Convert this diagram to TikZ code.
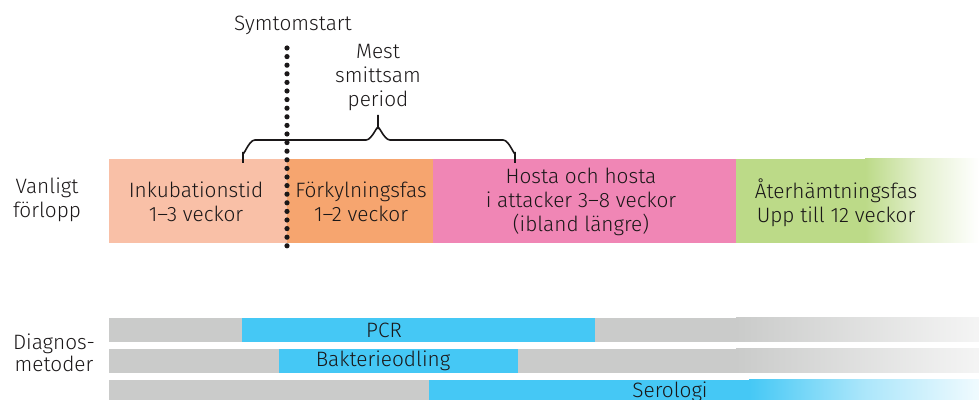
\documentclass[tikz,border=0pt]{standalone}
\usepackage{fontspec}
\setmainfont{Fira Sans}[UprightFont={* Light}]
\definecolor{inkub}{HTML}{F9C0A7}
\definecolor{forkyl}{HTML}{F6A56F}
\definecolor{hosta}{HTML}{F086B5}
\definecolor{ater}{HTML}{BCDA88}
\definecolor{metgrey}{HTML}{CACBCA}
\definecolor{metblue}{HTML}{45C8F5}
\definecolor{txt}{HTML}{1A1718}
\tikzset{
  lbl/.style={text=txt, font=\fontsize{10.4}{12}\selectfont, align=center, inner sep=0pt},
}

\begin{document}
\begin{tikzpicture}[x=0.5pt,y=-0.5pt]
\useasboundingbox (0,0) rectangle (979,400);
% fases
\fill[inkub] (109,159) rectangle (287,243);
\fill[forkyl] (287,159) rectangle (433,243);
\fill[hosta] (433,159) rectangle (736,243);
\fill[ater] (736,159) rectangle (866,243);
\shade[left color=ater, right color=white, middle color=ater!40] (865,159) rectangle (979,243);
% diagnosmetoder
\fill[metgrey] (109,318) rectangle (242,342);
\fill[metblue] (242,318) rectangle (595,342);
\fill[metgrey] (595,318) rectangle (737,342);
\shade[left color=metgrey, right color=metgrey!20] (736,318) rectangle (979,342);
\fill[metgrey] (109,349) rectangle (279,373);
\fill[metblue] (279,349) rectangle (518,373);
\fill[metgrey] (518,349) rectangle (737,373);
\shade[left color=metgrey, right color=metgrey!20] (736,349) rectangle (979,373);
\fill[metgrey] (109,380) rectangle (429,400);
\fill[metblue] (429,380) rectangle (750,400);
\shade[left color=metblue, right color=metblue!8, middle color=metblue!45] (749,380) rectangle (979,400);
% symtomstart
\node[lbl] (start) at (293,25) {Symtomstart};
\draw[txt, line width=2.6pt, dash pattern=on 0pt off 4.3pt, line cap=round] (287,48) -- (287,252);
% klammer
\draw[txt, line width=0.8pt] (243,163) -- (243,152) to[out=-90,in=180] (255,140) -- (366,140)
  to[out=0,in=90] (378,129) -- (378,115);
\draw[txt, line width=0.8pt] (378,129) to[out=90,in=180] (390,140) -- (503,140)
  to[out=0,in=-90] (515,152) -- (515,163);
\node[lbl] (mest) at (378,78) {Mest\\smittsam\\period};
% texter
\node[lbl] (forlopp) at (47,200) {Vanligt\\förlopp};
\node[lbl] (inkubtxt) at (196,202) {Inkubationstid\\1–3 veckor};
\node[lbl] (forkyltxt) at (361,202) {Förkylningsfas\\1–2 veckor};
\node[lbl] (hostatxt) at (581,202) {Hosta och hosta\\i attacker 3–8 veckor\\(ibland längre)};
\node[lbl] (atertxt) at (836,203) {Återhämtningsfas\\Upp till 12 veckor};
\node[lbl, font=\fontsize{10.4}{11}\selectfont] (diagnos) at (54,353) {Diagnos-\\metoder};
\node[lbl] (pcr) at (384,330) {PCR};
\node[lbl] (bakt) at (383,361) {Bakterieodling};
\node[lbl] (sero) at (670,392) {Serologi};
\end{tikzpicture}
\end{document}
